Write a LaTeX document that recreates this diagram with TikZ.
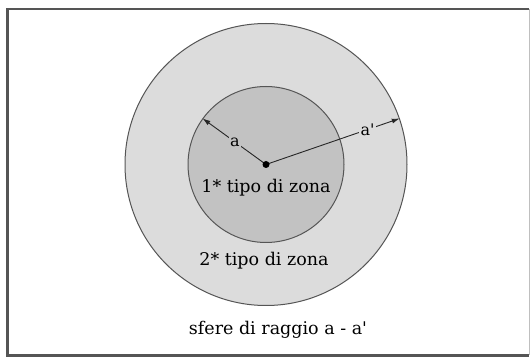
\documentclass[tikz,border=0pt]{standalone}
\usepackage{fontspec}
\setmainfont{DejaVu Serif}
\usetikzlibrary{arrows.meta}
\definecolor{ringgray}{HTML}{DCDCDC}
\definecolor{coregray}{HTML}{C2C2C2}
\definecolor{edgegray}{HTML}{555555}
\begin{document}
\begin{tikzpicture}[x=1pt,y=-1pt,
  zone/.style={circle,draw=edgegray,line width=1pt,inner sep=0pt},
  radius line/.style={draw=black!85,line width=0.9pt,-{Latex[length=8pt,width=5pt]}},
  txt/.style={font=\fontsize{17.5}{20}\selectfont,inner sep=1pt},
  lbl/.style={font=\fontsize{16}{18}\selectfont,inner sep=1.5pt}]
\useasboundingbox (0,0) rectangle (531,358);
\fill[white] (0,0) rectangle (531,358);
% frame
\draw[edgegray,line width=2.5pt] (529,9) -- (7.5,9) -- (7.5,355.5) -- (529,355.5);
\draw[gray!50,line width=1.5pt] (529.5,9) -- (529.5,355.5);
% zones
\node[zone,fill=ringgray,minimum size=282pt] (outer) at (266,164.5) {};
\node[zone,fill=coregray,minimum size=156pt] (inner) at (266,164.5) {};
\coordinate (c) at (266,164.5);
% radii
\draw[radius line] (c) -- (inner.144.5) node[lbl,pos=0.49,fill=coregray] (la) {a};
\draw[radius line] (c) -- (outer.19.7) node[lbl,pos=0.76,fill=ringgray] (lb) {a\textquotesingle};
\fill[black] (c) circle (3.5pt);
% texts
\node[txt] (t1) at (266,188) {1* tipo di zona};
\node[txt] (t2) at (264,261) {2* tipo di zona};
\node[txt] (t3) at (278,330) {sfere di raggio a - a\textquotesingle};
\end{tikzpicture}
\end{document}
